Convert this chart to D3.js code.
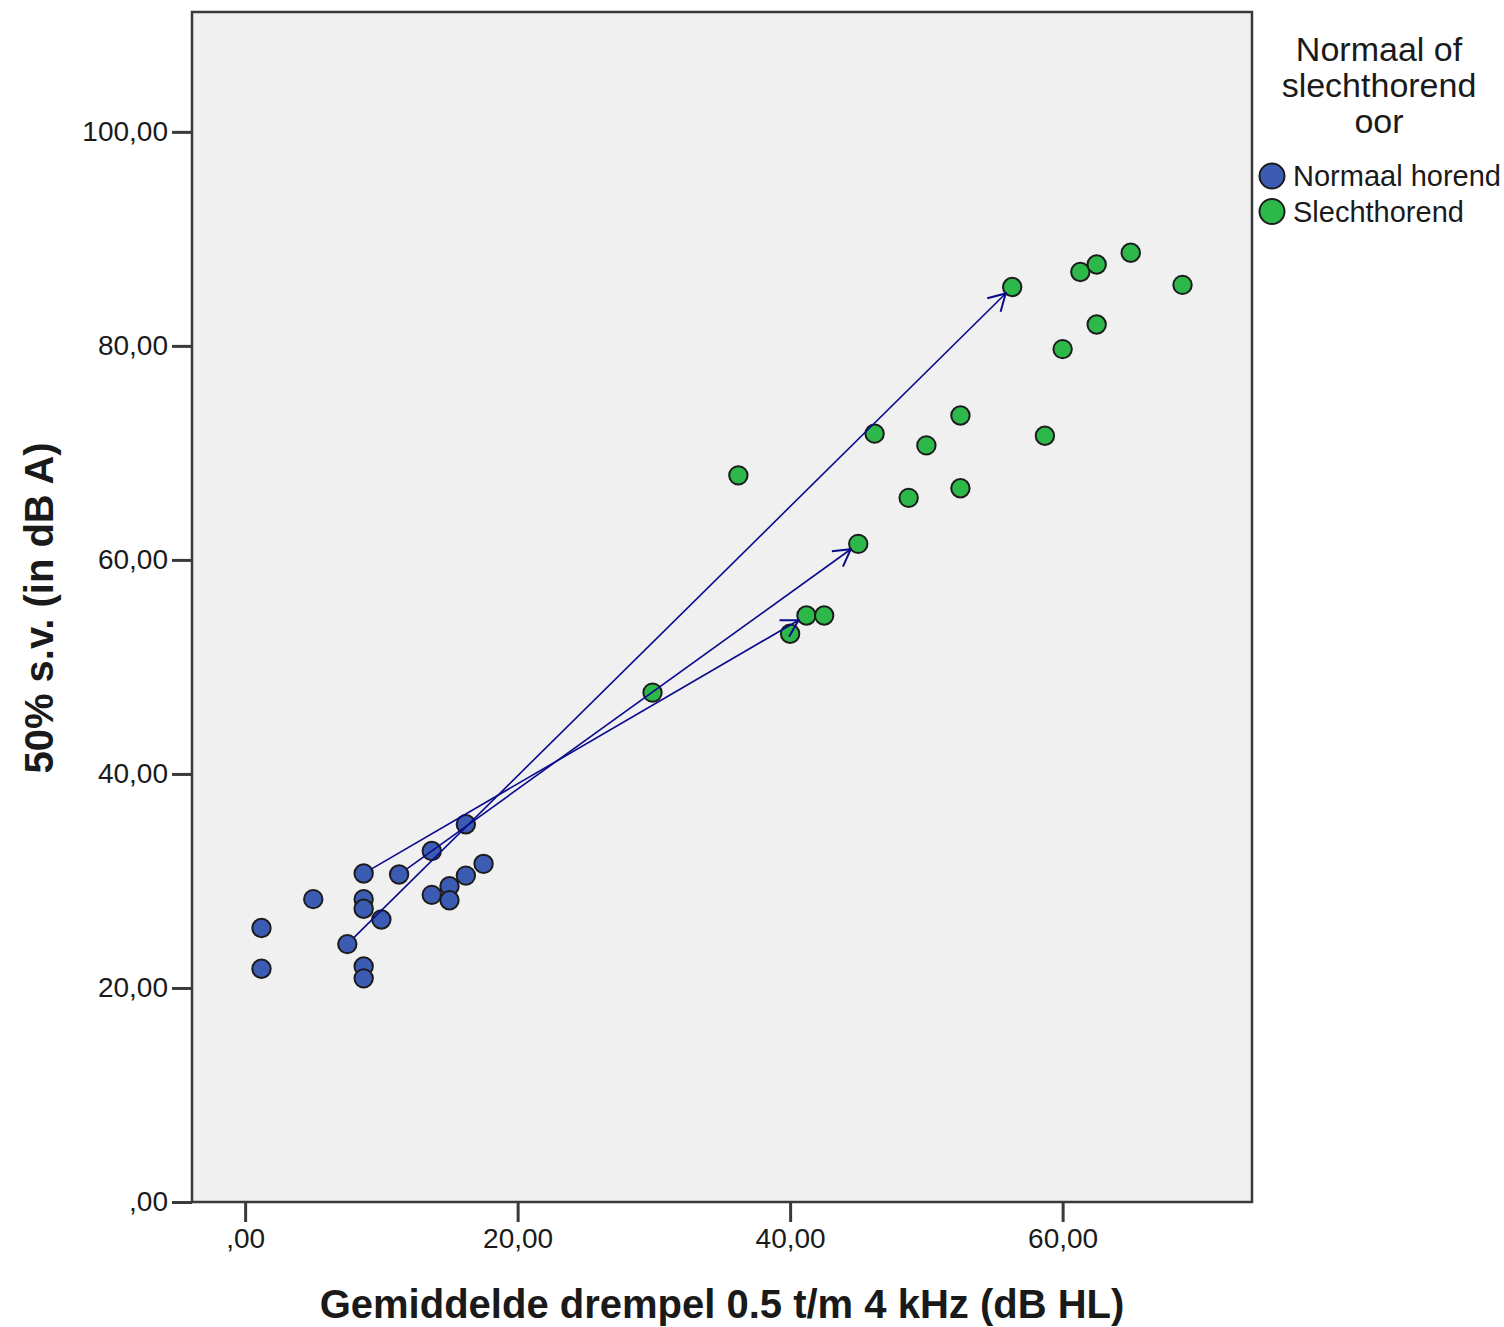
<!DOCTYPE html>
<html>
<head>
<meta charset="utf-8">
<script src="https://cdn.jsdelivr.net/npm/d3@7"></script>
<style>
  body { margin: 0; background: #fff; }
  text { font-family: "Liberation Sans", Arial, sans-serif; fill: #1a1a1a; }
</style>
</head>
<body>
<svg width="1504" height="1327"></svg>
<script>
// normal hearing ears: [threshold dB HL, 50% s.v. dB A]
var normalX = [1.2, 1.2, 5.0, 8.7, 8.7, 8.7, 10.0, 7.5, 8.7, 8.7, 11.3, 13.7, 16.2, 13.7, 15.0, 15.0, 16.2, 17.5];
var normalY = [25.6, 21.8, 28.3, 30.7, 28.3, 27.4, 26.4, 24.1, 22.0, 20.9, 30.6, 32.8, 35.3, 28.7, 29.5, 28.2, 30.5, 31.6];
// hearing impaired ears
var impairedX = [29.9, 36.2, 40.0, 41.2, 42.5, 45.0, 46.2, 48.7, 50.0, 52.5, 52.5, 56.3, 58.7, 60.0, 61.3, 62.5, 62.5, 65.0, 68.8];
var impairedY = [47.6, 67.9, 53.1, 54.8, 54.8, 61.5, 71.8, 65.8, 70.7, 73.5, 66.7, 85.5, 71.6, 79.7, 86.9, 87.6, 82.0, 88.7, 85.7];
// arrows (from -> to)
var arrowFromX = [8.7, 11.3, 7.5];
var arrowFromY = [30.7, 30.6, 24.1];
var arrowToX = [41.2, 45.0, 56.3];
var arrowToY = [54.8, 61.5, 85.5];

var xTicks = [0, 20, 40, 60];
var yTicks = [0, 20, 40, 60, 80, 100];
var groups = ["Normaal horend", "Slechthorend"];
var groupColors = ["#3c5cb4", "#2db84a"];

var svg = d3.select("svg");
var pLeft = 192, pRight = 1252, pTop = 12, pBottom = 1202;

var x = d3.scaleLinear().domain([-3.9, 73.9]).range([pLeft, pRight]);
var y = d3.scaleLinear().domain([0, 111.2]).range([pBottom, pTop]);

var fmt = function (v) {
  var s = d3.format(".2f")(v).replace(".", ",");
  return s.startsWith("0,") ? s.slice(1) : s;
};

// plot background
svg.append("rect")
  .attr("x", pLeft).attr("y", pTop)
  .attr("width", pRight - pLeft).attr("height", pBottom - pTop)
  .attr("fill", "#f0f0f0");

// axes
var xAxis = svg.append("g")
  .attr("transform", "translate(0," + pBottom + ")")
  .call(d3.axisBottom(x).tickValues(xTicks).tickFormat(fmt).tickSize(20).tickPadding(6));
var yAxis = svg.append("g")
  .attr("transform", "translate(" + pLeft + ",0)")
  .call(d3.axisLeft(y).tickValues(yTicks).tickFormat(fmt).tickSize(20).tickPadding(4));

[xAxis, yAxis].forEach(function (a) {
  a.select(".domain").remove();
  a.selectAll(".tick line").attr("stroke", "#3a3a3a").attr("stroke-width", 3);
  a.selectAll(".tick text")
    .attr("font-size", 28)
    .attr("fill", "#1a1a1a")
    .style("font-family", "'Liberation Sans', Arial, sans-serif");
});

// points
var pts = [];
normalX.forEach(function (v, i) { pts.push({ x: v, y: normalY[i], g: 0 }); });
impairedX.forEach(function (v, i) { pts.push({ x: v, y: impairedY[i], g: 1 }); });

var r = 9.2;
svg.append("g").selectAll("circle")
  .data(pts).enter().append("circle")
  .attr("cx", function (d) { return x(d.x); })
  .attr("cy", function (d) { return y(d.y); })
  .attr("r", r)
  .attr("fill", function (d) { return groupColors[d.g]; })
  .attr("stroke", "#1c1c1c")
  .attr("stroke-width", 2);

// arrows
var defs = svg.append("defs");
defs.append("marker")
  .attr("id", "head")
  .attr("markerUnits", "userSpaceOnUse")
  .attr("viewBox", "-20 -12 24 24")
  .attr("refX", 0).attr("refY", 0)
  .attr("markerWidth", 24).attr("markerHeight", 24)
  .attr("orient", "auto")
  .append("path")
  .attr("d", "M-16.5,-9.5L0,0L-16.5,9.5")
  .attr("fill", "none")
  .attr("stroke", "#0a0a8c")
  .attr("stroke-width", 2);

svg.append("g").selectAll("line")
  .data(arrowFromX.map(function (v, i) {
    return { x1: x(v), y1: y(arrowFromY[i]), x2: x(arrowToX[i]), y2: y(arrowToY[i]) };
  }))
  .enter().append("line")
  .each(function (d) {
    var dx = d.x2 - d.x1, dy = d.y2 - d.y1, len = Math.sqrt(dx * dx + dy * dy);
    var ux = dx / len, uy = dy / len;
    d3.select(this)
      .attr("x1", d.x1 + ux * r).attr("y1", d.y1 + uy * r)
      .attr("x2", d.x2 - ux * r).attr("y2", d.y2 - uy * r);
  })
  .attr("stroke", "#0a0a8c")
  .attr("stroke-width", 1.6)
  .attr("marker-end", "url(#head)");

// frame
svg.append("rect")
  .attr("x", pLeft).attr("y", pTop)
  .attr("width", pRight - pLeft).attr("height", pBottom - pTop)
  .attr("fill", "none")
  .attr("stroke", "#3a3a3a")
  .attr("stroke-width", 2.5);

// axis titles
svg.append("text")
  .attr("x", 722).attr("y", 1318)
  .attr("text-anchor", "middle")
  .attr("font-size", 40).attr("font-weight", "bold")
  .text("Gemiddelde drempel 0.5 t/m 4 kHz (dB HL)");

svg.append("text")
  .attr("transform", "translate(53,608) rotate(-90)")
  .attr("text-anchor", "middle")
  .attr("font-size", 40).attr("font-weight", "bold")
  .text("50% s.v. (in dB A)");

// legend
var legTitle = ["Normaal of", "slechthorend", "oor"];
svg.append("g").selectAll("text")
  .data(legTitle).enter().append("text")
  .attr("x", 1379)
  .attr("y", function (d, i) { return 61 + i * 36; })
  .attr("text-anchor", "middle")
  .attr("font-size", 34)
  .text(function (d) { return d; });

var leg = svg.append("g").selectAll("g")
  .data(groups).enter().append("g")
  .attr("transform", function (d, i) { return "translate(1272," + (176 + i * 35.5) + ")"; });
leg.append("circle")
  .attr("r", 12.5)
  .attr("fill", function (d, i) { return groupColors[i]; })
  .attr("stroke", "#1c1c1c")
  .attr("stroke-width", 2);
leg.append("text")
  .attr("x", 21).attr("y", 10)
  .attr("font-size", 29)
  .text(function (d) { return d; });
</script>
</body>
</html>
